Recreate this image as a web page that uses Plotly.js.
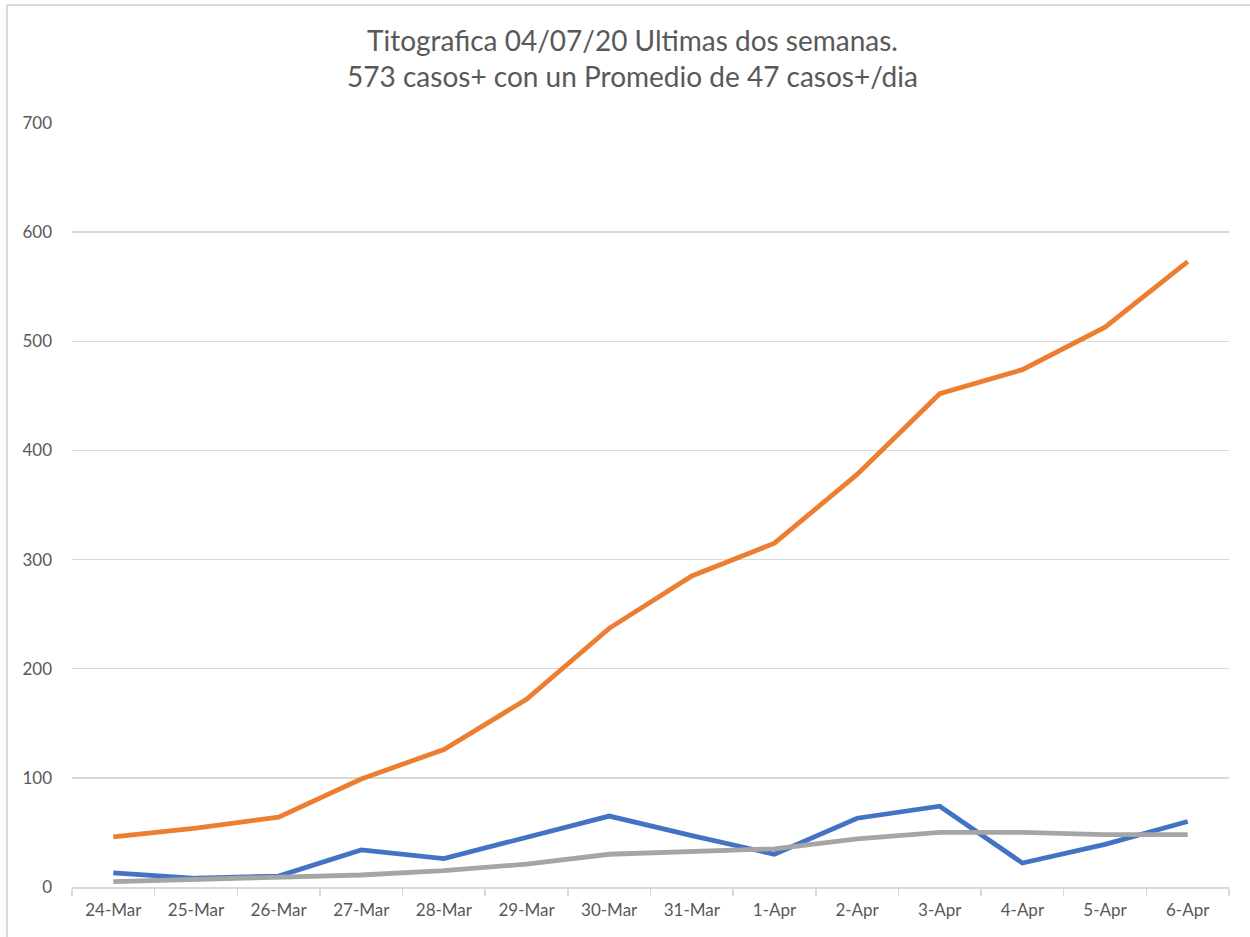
<!DOCTYPE html>
<html>
<head>
<meta charset="utf-8">
<script src="https://cdn.plot.ly/plotly-3.0.1.min.js"></script>
<style>
  html, body { margin: 0; padding: 0; background: #ffffff; }
  #chart { width: 1250px; height: 937px; }
</style>
</head>
<body>
<div id="chart"></div>
<script>
const categories = ["24-Mar","25-Mar","26-Mar","27-Mar","28-Mar","29-Mar","30-Mar","31-Mar","1-Apr","2-Apr","3-Apr","4-Apr","5-Apr","6-Apr"];
const dailyCases = [13, 8, 10, 34, 26, 46, 65, 47, 30, 63, 74, 22, 39, 60];
const totalCases = [46, 54, 64, 99, 126, 172, 237, 285, 315, 378, 452, 474, 513, 573];
const avgCases = [5, 7, 8, 11, 15, 21, 30, 33, 35, 44, 50, 50, 48, 48];
const yTicks = [0, 100, 200, 300, 400, 500, 600, 700];

const textColor = "#595959";
const gridColor = "#d9d9d9";
const fontFamily = "Lato, 'Open Sans', sans-serif";

const traces = [
  { x: categories, y: dailyCases, type: "scatter", mode: "lines", name: "Casos diarios",
    line: { color: "#4472C4", width: 4.8 } },
  { x: categories, y: totalCases, type: "scatter", mode: "lines", name: "Casos totales",
    line: { color: "#ED7D31", width: 4.8 } },
  { x: categories, y: avgCases, type: "scatter", mode: "lines", name: "Promedio",
    line: { color: "#A5A5A5", width: 4.8 } }
];

const layout = {
  width: 1250, height: 937,
  paper_bgcolor: "#ffffff", plot_bgcolor: "#ffffff",
  showlegend: false,
  margin: { l: 72, r: 21, t: 123, b: 50 },
  font: { family: fontFamily, color: textColor, size: 17 },
  title: {
    text: "Titografica 04/07/20 Ultimas dos semanas.<br>573 casos+ con un Promedio de 47 casos+/dia",
    font: { family: fontFamily, size: 28, color: textColor },
    x: 0.506, xref: "container", xanchor: "center",
    y: 0.946, yref: "container", yanchor: "top"
  },
  xaxis: {
    type: "category",
    categoryorder: "array", categoryarray: categories,
    range: [-0.5, categories.length - 0.5],
    showgrid: false,
    showline: true, linecolor: gridColor, linewidth: 1.5,
    ticks: "outside", tickson: "boundaries", ticklen: 7, tickcolor: gridColor, tickwidth: 1.5,
    tickfont: { family: fontFamily, size: 17, color: textColor },
    ticklabelstandoff: 7,
    zeroline: false, fixedrange: true
  },
  yaxis: {
    range: [0, 700],
    tickmode: "array", tickvals: yTicks, ticktext: yTicks.map(String),
    showgrid: true, gridcolor: gridColor, gridwidth: 1.5,
    zeroline: false, showline: false, ticks: "",
    tickfont: { family: fontFamily, size: 17, color: textColor },
    ticklabelstandoff: 19,
    fixedrange: true
  },
  shapes: [
    { type: "line", xref: "paper", yref: "paper", x0: -0.0562, x1: 1.2, y0: 1.1545, y1: 1.1545,
      line: { color: gridColor, width: 2 } },
    { type: "line", xref: "paper", yref: "paper", x0: -0.0562, x1: -0.0562, y0: 1.1545, y1: -0.2,
      line: { color: gridColor, width: 2 } }
  ]
};

Plotly.newPlot("chart", traces, layout, { displayModeBar: false, staticPlot: true });
</script>
</body>
</html>
